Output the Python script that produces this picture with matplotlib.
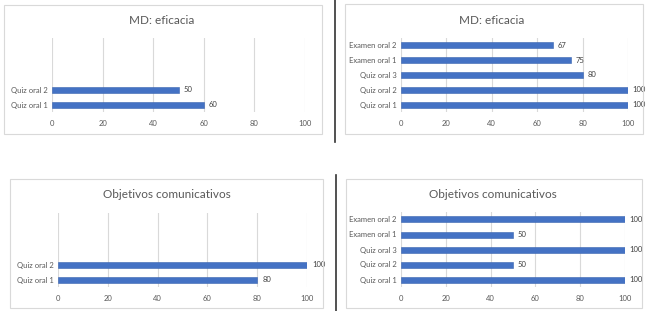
import matplotlib.pyplot as plt
from matplotlib.patches import Rectangle
from matplotlib.lines import Line2D

plt.rcParams['font.family'] = ['Lato', 'DejaVu Sans']

# data
cats_quiz2 = ['Quiz oral 1', 'Quiz oral 2', '', '', '']
cats_all = ['Quiz oral 1', 'Quiz oral 2', 'Quiz oral 3', 'Examen oral 1', 'Examen oral 2']
md_left = [60, 50]
md_right = [100, 100, 80, 75, 67]
obj_left = [80, 100]
obj_right = [100, 50, 100, 50, 100]
ticks = [0, 20, 40, 60, 80, 100]

W, H = 650, 311
fig = plt.figure(figsize=(6.5, 3.11), dpi=100)
fig.patch.set_facecolor('white')

blue = '#4472C4'
grid = '#d9d9d9'
txt = '#595959'


def box(x0, y0, x1, y1):
    fig.patches.append(Rectangle((x0 / W, 1 - y1 / H), (x1 - x0) / W, (y1 - y0) / H,
                                 transform=fig.transFigure, fill=False,
                                 edgecolor='#d9d9d9', linewidth=0.8))


def panel(l, r, t, b, cats, vals, title, tx, ty):
    ax = fig.add_axes([l / W, 1 - b / H, (r - l) / W, (b - t) / H])
    pos = list(range(len(vals)))
    ax.barh(pos, vals, height=0.4, color=blue, edgecolor='#3a64b0', linewidth=0.4, zorder=3)
    for p, v in zip(pos, vals):
        ax.text(v + 2, p, str(v), va='center', ha='left', fontsize=5.5, color='#404040')
    ax.set_ylim(-0.5, len(cats) - 0.5)
    ax.set_yticks(range(len(cats)))
    ax.set_yticklabels(cats)
    ax.set_xlim(0, 100)
    ax.set_xticks(ticks)
    ax.xaxis.grid(True, color=grid, linewidth=0.8, zorder=0)
    ax.tick_params(length=0, labelsize=5.5, labelcolor=txt)
    ax.tick_params(axis='x', pad=5.5)
    ax.tick_params(axis='y', pad=3)
    for s in ax.spines.values():
        s.set_visible(False)
    fig.text(tx / W, 1 - ty / H, title, ha='center', va='center', fontsize=8.5, color=txt)
    return ax


box(4, 5, 322, 134)
box(345, 4, 643, 134)
box(10, 179, 323, 308)
box(346, 179, 642, 308)

panel(52, 305, 38, 112, cats_quiz2, md_left, 'MD: eficacia', 162, 20)
panel(401, 628, 38, 112, cats_all, md_right, 'MD: eficacia', 492, 20)
panel(58, 307, 213, 287, cats_quiz2, obj_left, 'Objetivos comunicativos', 167, 195)
panel(401, 625, 212, 287, cats_all, obj_right, 'Objetivos comunicativos', 493, 194)

fig.lines.append(Line2D([335 / W, 335 / W], [1, 1 - 142 / H], transform=fig.transFigure,
                        color='#333333', linewidth=1.2))
fig.lines.append(Line2D([336 / W, 336 / W], [1 - 175 / H, 0], transform=fig.transFigure,
                        color='#333333', linewidth=1.2))

fig.savefig('out.png', dpi=100)
